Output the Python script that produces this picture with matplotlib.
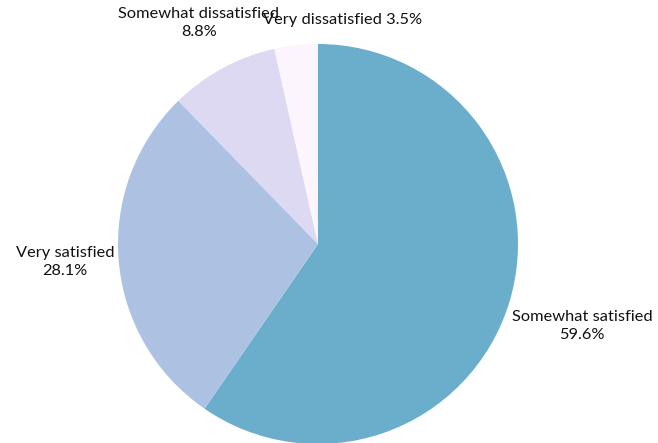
import numpy as np
import matplotlib.pyplot as plt

plt.rcParams['font.family'] = ['Lato', 'DejaVu Sans']

labels = ['Somewhat satisfied', 'Very satisfied', 'Somewhat dissatisfied', 'Very dissatisfied']
values = [59.6, 28.1, 8.8, 3.5]
colors = ['#6aaecb', '#adc2e3', '#ddd9f3', '#fdf5fd']

# label text and where it sits (data units, pie radius = 1)
label_text = ['Somewhat satisfied\n59.6%', 'Very satisfied\n28.1%',
              'Somewhat dissatisfied\n8.8%', 'Very dissatisfied 3.5%']
label_pos = [(1.32, -0.41), (-1.265, -0.09), (-0.595, 1.105), (0.125, 1.12)]

fig = plt.figure(figsize=(6.58, 4.43), dpi=100)
ax = fig.add_axes([0, 0, 1, 1])

ax.pie(values, colors=colors, startangle=90, counterclock=False,
       wedgeprops=dict(linewidth=0))

for txt, (x, y) in zip(label_text, label_pos):
    ax.text(x, y, txt, ha='center', va='center', fontsize=11.8, color='#111111',
            linespacing=1.45)

# 1 data unit = 200 px, pie centre at (318, 244) px
ax.set_xlim(-318 / 200, 340 / 200)
ax.set_ylim(-199 / 200, 244 / 200)
ax.set_aspect('equal')
ax.axis('off')

fig.savefig('out.png', dpi=100)
